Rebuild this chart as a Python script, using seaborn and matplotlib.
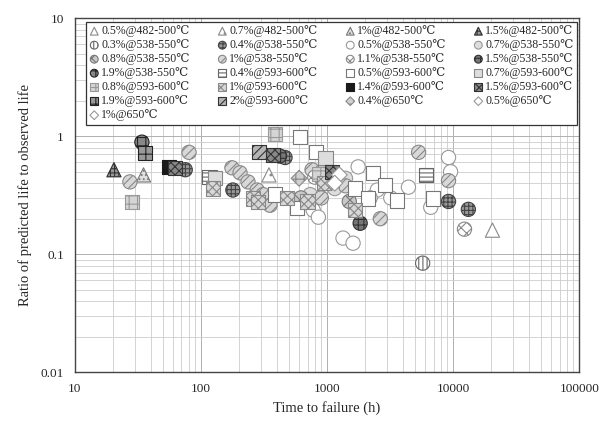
import matplotlib
matplotlib.use("Agg")
import matplotlib.pyplot as plt
import seaborn as sns
from matplotlib.ticker import FuncFormatter, LogLocator, NullFormatter

# --- data (time to failure in h, ratio predicted/observed) ---
x_482_05 = [20500]
y_482_05 = [0.16]
x_482_07 = [346]
y_482_07 = [0.47]
x_482_10 = [35]
y_482_10 = [0.47]
x_482_15 = [20.4]
y_482_15 = [0.52]

x_538_03 = [5730]
y_538_03 = [0.084]
x_538_04 = [75, 464, 179, 9190, 13200]
y_538_04 = [0.52, 0.66, 0.35, 0.28, 0.24]
x_538_05 = [1338, 1608, 9190, 9540, 1764, 4420, 6640, 777, 853, 1250, 2500, 3200]
y_538_05 = [0.137, 0.124, 0.66, 0.50, 0.55, 0.37, 0.25, 0.236, 0.206, 0.42, 0.35, 0.30]
x_538_07 = [735, 1150, 2200, 1400]
y_538_07 = [0.32, 0.36, 0.30, 0.44]
x_538_08 = [620, 1500, 940]
y_538_08 = [0.30, 0.28, 0.52]
x_538_10 = [27.3, 80.4, 176, 204, 236, 279, 311, 353, 5320, 9190, 2645, 1400, 900, 760, 1050]
y_538_10 = [0.41, 0.73, 0.54, 0.49, 0.41, 0.35, 0.32, 0.26, 0.73, 0.42, 0.20, 0.38, 0.30, 0.52, 0.40]
x_538_11 = [12300, 800, 1200]
y_538_11 = [0.163, 0.45, 0.47]
x_538_15 = [1830, 420]
y_538_15 = [0.183, 0.68]
x_538_19 = [34]
y_538_19 = [0.89]

x_593_04 = [6060, 117]
y_593_04 = [0.47, 0.45]
x_593_05 = [611, 822, 579, 386, 2324, 2900, 1668, 3610, 6880, 2120, 1100]
y_593_05 = [0.98, 0.73, 0.245, 0.32, 0.49, 0.385, 0.36, 0.285, 0.297, 0.297, 0.43]
x_593_07 = [971, 1025, 129]
y_593_07 = [0.65, 0.44, 0.44]
x_593_08 = [386, 28.3, 870]
y_593_08 = [1.04, 0.275, 0.48]
x_593_10 = [125, 259, 284, 482, 1668, 950, 700]
y_593_10 = [0.36, 0.297, 0.275, 0.30, 0.236, 0.40, 0.28]
x_593_14 = [56]
y_593_14 = [0.55]
x_593_15 = [62, 372, 1098]
y_593_15 = [0.54, 0.69, 0.50]
x_593_19 = [36]
y_593_19 = [0.72]
x_593_20 = [289]
y_593_20 = [0.73]

x_650_04 = [600]
y_650_04 = [0.44]
x_650_05 = [1250]
y_650_05 = [0.47]
x_650_10 = [1150]
y_650_10 = [0.40]

labels = [
    "0.5%@482-500℃", "0.7%@482-500℃", "1%@482-500℃", "1.5%@482-500℃",
    "0.3%@538-550℃", "0.4%@538-550℃", "0.5%@538-550℃", "0.7%@538-550℃",
    "0.8%@538-550℃", "1%@538-550℃", "1.1%@538-550℃", "1.5%@538-550℃",
    "1.9%@538-550℃", "0.4%@593-600℃", "0.5%@593-600℃", "0.7%@593-600℃",
    "0.8%@593-600℃", "1%@593-600℃", "1.4%@593-600℃", "1.5%@593-600℃",
    "1.9%@593-600℃", "2%@593-600℃", "0.4%@650℃", "0.5%@650℃",
    "1%@650℃",
]
xs = [x_482_05, x_482_07, x_482_10, x_482_15,
      x_538_03, x_538_04, x_538_05, x_538_07,
      x_538_08, x_538_10, x_538_11, x_538_15,
      x_538_19, x_593_04, x_593_05, x_593_07,
      x_593_08, x_593_10, x_593_14, x_593_15,
      x_593_19, x_593_20, x_650_04, x_650_05,
      x_650_10]
ys = [y_482_05, y_482_07, y_482_10, y_482_15,
      y_538_03, y_538_04, y_538_05, y_538_07,
      y_538_08, y_538_10, y_538_11, y_538_15,
      y_538_19, y_593_04, y_593_05, y_593_07,
      y_593_08, y_593_10, y_593_14, y_593_15,
      y_593_19, y_593_20, y_650_04, y_650_05,
      y_650_10]

# marker, face colour, hatch, edge colour
styles = [
    ("^", "white", "", "#888888"),
    ("^", "white", "..", "#888888"),
    ("^", "#e0e0e0", "....", "#777777"),
    ("^", "#999999", "++++", "#333333"),
    ("o", "white", "||||", "#666666"),
    ("o", "#999999", "++++", "#444444"),
    ("o", "white", "", "#999999"),
    ("o", "#dddddd", "", "#999999"),
    ("o", "#c8c8c8", "xx", "#777777"),
    ("o", "#d8d8d8", "////", "#888888"),
    ("o", "white", "xxx", "#888888"),
    ("o", "#777777", "+++", "#333333"),
    ("o", "#888888", "++", "#222222"),
    ("s", "white", "----", "#666666"),
    ("s", "white", "", "#777777"),
    ("s", "#dddddd", "", "#888888"),
    ("s", "#d5d5d5", "++", "#999999"),
    ("s", "#d8d8d8", "xxxx", "#888888"),
    ("s", "#1a1a1a", "", "#1a1a1a"),
    ("s", "#888888", "xxxx", "#333333"),
    ("s", "#999999", "++", "#222222"),
    ("s", "#b5b5b5", "////", "#333333"),
    ("D", "#d0d0d0", "++", "#888888"),
    ("D", "white", "", "#999999"),
    ("D", "white", "", "#999999"),
]

sns.set_style("white")
plt.rcParams["font.family"] = ["Liberation Serif", "DejaVu Serif"]
plt.rcParams["hatch.linewidth"] = 0.8

fig = plt.figure(figsize=(6.04, 4.23), dpi=100)
ax = fig.add_axes([0.124, 0.12, 0.835, 0.837])

for lab, xv, yv, (m, fc, h, ec) in zip(labels, xs, ys, styles):
    size = 65 if m == "D" else 105
    sns.scatterplot(x=xv, y=yv, ax=ax, marker=m, s=size, color=fc,
                    edgecolor=ec, hatch=h, linewidth=0.8, label=lab,
                    zorder=3, legend=False)

ax.set_xscale("log")
ax.set_yscale("log")
ax.set_xlim(10, 100000)
ax.set_ylim(0.01, 10)

fmt = FuncFormatter(lambda v, p: f"{v:g}")
ax.xaxis.set_major_formatter(fmt)
ax.yaxis.set_major_formatter(fmt)
ax.xaxis.set_minor_locator(LogLocator(base=10, subs=range(2, 10)))
ax.yaxis.set_minor_locator(LogLocator(base=10, subs=range(2, 10)))
ax.xaxis.set_minor_formatter(NullFormatter())
ax.yaxis.set_minor_formatter(NullFormatter())
ax.tick_params(which="both", length=0, labelsize=9.5, pad=8)

ax.grid(which="major", color="#b0b0b0", linewidth=0.7)
ax.grid(which="minor", color="#cccccc", linewidth=0.6)
ax.set_axisbelow(True)
for sp in ax.spines.values():
    sp.set_color("#444444")
    sp.set_linewidth(1.0)

ax.set_xlabel("Time to failure (h)", fontsize=10.5, labelpad=4)
ax.set_ylabel("Ratio of predicted life to observed life", fontsize=10.5, labelpad=6)

# legend is read row by row in the reference; matplotlib fills column by column
handles, labs = ax.get_legend_handles_labels()
ncol = 4
n = len(handles)
nrows = -(-n // ncol)
order = []
for c in range(ncol):
    for r in range(nrows):
        k = r * ncol + c
        if k < n:
            order.append(k)
leg = ax.legend([handles[k] for k in order], [labs[k] for k in order],
                ncol=ncol, loc="upper left", mode="expand",
                bbox_to_anchor=(0.022, 0.705, 0.974, 0.285),
                fontsize=8.5, frameon=True, fancybox=False, framealpha=1,
                edgecolor="#333333", handletextpad=0.2, handlelength=0.8,
                columnspacing=0.4, labelspacing=0.17, borderpad=0.3,
                markerscale=0.55, borderaxespad=0)
leg.get_frame().set_linewidth(0.9)
leg.set_zorder(5)

fig.savefig("out.png", dpi=100)
